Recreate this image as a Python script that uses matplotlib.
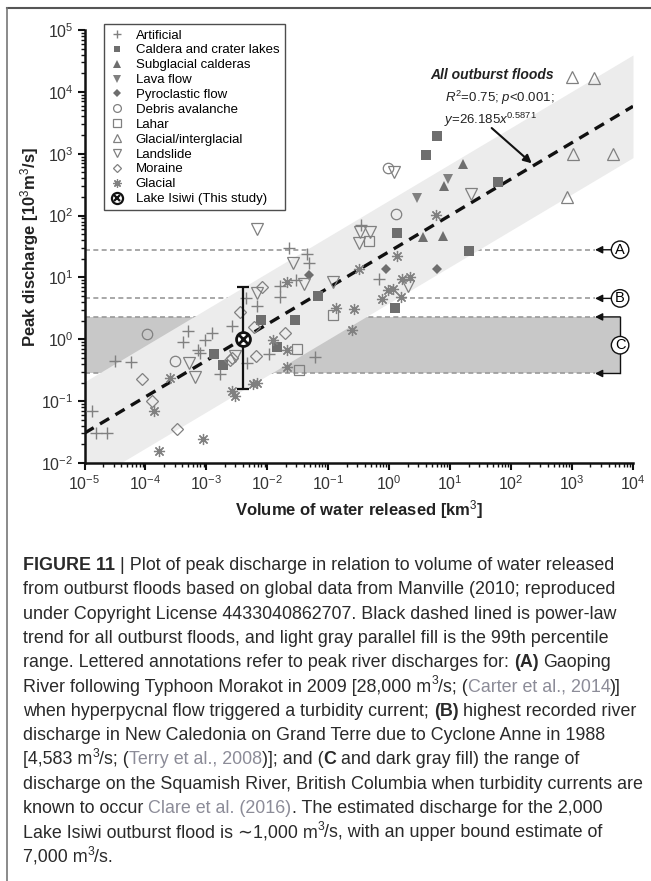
import numpy as np
import matplotlib
matplotlib.use('Agg')
import matplotlib.pyplot as plt
from matplotlib.lines import Line2D
from matplotlib.ticker import LogLocator, NullFormatter

W, H = 651, 881

# --- data (volume km3, discharge 10^3 m3/s) ---
art_x = [0.023, 0.044, 0.049, 0.016, 0.030, 0.016, 0.0045, 0.0067, 0.0026, 0.0005, 0.00122, 0.061,
         0.0108, 0.0046, 0.00095, 0.00041, 0.00074, 0.00079, 3.2e-5, 5.9e-5, 0.00168, 1.31e-5,
         1.55e-5, 2.37e-5, 0.34, 0.69]
art_y = [29.6, 23.9, 16.9, 7.3, 9.1, 4.9, 4.6, 3.4, 1.64, 1.38, 1.28, 0.52,
         0.58, 0.41, 0.97, 0.91, 0.67, 0.59, 0.45, 0.43, 0.275, 0.069,
         0.031, 0.030, 70, 9.3]
cal_x = [0.068, 0.0078, 0.0284, 0.0146, 0.00135, 0.00185, 6.0, 4.0, 62, 1.36, 20.7, 1.24]
cal_y = [5.0, 2.05, 2.05, 0.76, 0.57, 0.38, 1930, 950, 353, 52.8, 26.7, 3.17]
sub_x = [16.1, 7.9, 3.54, 7.55]
sub_y = [682, 300, 45.5, 46.8]
lava_x = [9.3, 2.9]
lava_y = [385, 190]
pyro_x = [0.048, 0.885, 6.15]
pyro_y = [10.9, 13.5, 13.5]
debris_x = [0.00031, 0.000107, 0.97, 1.29]
debris_y = [0.45, 1.2, 581, 106]
lahar_x = [0.031, 0.033, 0.47, 0.121]
lahar_y = [0.69, 0.32, 39, 2.47]
glint_x = [1016, 2300, 1050, 4750, 820]
glint_y = [17600, 16600, 990, 990, 202]
land_x = [0.0067, 0.0267, 0.040, 0.121, 0.0067, 0.00295, 0.00052, 0.00065, 1.2, 21.7,
          0.33, 0.48, 0.32, 2.06]
land_y = [60, 16.9, 7.8, 8.5, 5.5, 0.54, 0.42, 0.25, 513, 223,
          55, 55, 36, 7.3]
mor_x = [0.0081, 0.00356, 0.0061, 0.0195, 0.0065, 0.00244, 0.0026, 8.7e-5, 0.000127, 0.00033]
mor_y = [7.1, 2.8, 1.6, 1.25, 0.54, 0.46, 0.50, 0.225, 0.10, 0.036]
glac_x = [0.0208, 0.32, 0.0122, 0.0213, 0.0208, 0.00025, 0.000138, 0.00089, 0.000169, 0.0026,
          0.00295, 0.00575, 0.0068, 5.86, 1.36, 1.6, 2.19, 0.97, 1.17, 0.75, 1.56, 0.134, 0.264, 0.243]
glac_y = [8.5, 13.5, 0.97, 0.67, 0.35, 0.234, 0.07, 0.0244, 0.0158, 0.148,
          0.121, 0.189, 0.20, 102, 22.2, 9.3, 10.0, 6.3, 6.4, 4.4, 4.9, 3.17, 3.05, 1.41]

isiwi_x, isiwi_y, isiwi_lo, isiwi_hi = 0.004, 1.0, 0.16, 7.0

fit_a, fit_b = 26.185, 0.5871      # y = 26.185 x^0.5871
band_dec = 0.83                    # half-width of 99th percentile band (decades)
river_a, river_b = 28.0, 4.583     # (A), (B)
river_c = (0.28, 2.3)              # (C) range

plt.rcParams['font.family'] = ['Liberation Sans', 'DejaVu Sans']
plt.rcParams['mathtext.fontset'] = 'custom'
plt.rcParams['mathtext.rm'] = 'Liberation Sans'
plt.rcParams['mathtext.it'] = 'Liberation Sans:italic'
plt.rcParams['mathtext.bf'] = 'Liberation Sans:bold'

fig = plt.figure(figsize=(W / 100, H / 100), dpi=100)
L, R, T, B = 84.5, 633, 30, 463
ax = fig.add_axes([L / W, 1 - B / H, (R - L) / W, (B - T) / H])
ax.set_xscale('log')
ax.set_yscale('log')
ax.set_xlim(1e-5, 1e4)
ax.set_ylim(1e-2, 1e5)

# dark gray C range + reference lines (beneath the band)
x_end = 6140
x_tip = 2380
x_tail = 4530
ax.fill_between([1e-5, x_end], river_c[0], river_c[1], color='#c8c8c8', lw=0, zorder=1)
for yv in [river_a, river_b, river_c[0], river_c[1]]:
    ax.plot([1e-5, x_tip], [yv, yv], color='#9a9a9a', lw=1.2, dashes=(3, 2), zorder=1.5)

xs = np.logspace(-5, 4, 100)
yfit = fit_a * xs ** fit_b
ax.fill_between(xs, yfit / 10 ** band_dec, yfit * 10 ** band_dec, color='#ececec', lw=0, zorder=2)
ax.plot(xs, yfit, color='#111111', lw=2.4, dashes=(3.2, 2.2), zorder=4)

gray = '#808080'
dgray = '#6e6e6e'
styles = [
    ('Artificial', art_x, art_y, dict(marker='+', ms=8, mew=1.0, color=gray, mfc=gray)),
    ('Caldera and crater lakes', cal_x, cal_y, dict(marker='s', ms=6.5, mew=0, color=dgray, mfc=dgray)),
    ('Subglacial calderas', sub_x, sub_y, dict(marker='^', ms=7, mew=0, color=dgray, mfc=dgray)),
    ('Lava flow', lava_x, lava_y, dict(marker='v', ms=7, mew=0, color=gray, mfc=gray)),
    ('Pyroclastic flow', pyro_x, pyro_y, dict(marker='D', ms=5.5, mew=0, color=dgray, mfc=dgray)),
    ('Debris avalanche', debris_x, debris_y, dict(marker='o', ms=7.5, mew=0.9, color=gray, mfc='none')),
    ('Lahar', lahar_x, lahar_y, dict(marker='s', ms=7.5, mew=0.9, color=gray, mfc='none')),
    ('Glacial/interglacial', glint_x, glint_y, dict(marker='^', ms=8, mew=0.9, color=gray, mfc='none')),
    ('Landslide', land_x, land_y, dict(marker='v', ms=8, mew=0.9, color=gray, mfc='none')),
    ('Moraine', mor_x, mor_y, dict(marker='D', ms=6, mew=0.9, color=gray, mfc='none')),
    ('Glacial', glac_x, glac_y, dict(marker=(8, 2, 0), ms=8, mew=0.9, color=gray, mfc=gray)),
]
handles = []
for name, xv, yv, st in styles:
    ax.plot(xv, yv, ls='none', zorder=5, **st)
    hst = dict(st)
    hst['ms'] = st['ms'] * 0.75
    handles.append(Line2D([], [], ls='none', label=name, **hst))

# Lake Isiwi
ax.errorbar([isiwi_x], [isiwi_y], yerr=[[isiwi_y - isiwi_lo], [isiwi_hi - isiwi_y]],
            fmt='none', ecolor='#111111', elinewidth=1.6, capsize=4.5, capthick=1.6, zorder=6)
ax.plot([isiwi_x], [isiwi_y], marker='o', ms=10, mfc='white', mec='#111111', mew=2, ls='none', zorder=7)
ax.plot([isiwi_x], [isiwi_y], marker='x', ms=6.5, mec='#111111', mew=2, ls='none', zorder=8)
h_c = Line2D([], [], marker='o', ms=8, mfc='white', mec='#111111', mew=1.6, ls='none')
h_x = Line2D([], [], marker='x', ms=5, mec='#111111', mew=1.6, ls='none')
handles.append((h_c, h_x))
labels = [s[0] for s in styles] + ['Lake Isiwi (This study)']

leg = ax.legend(handles, labels, loc='upper left', bbox_to_anchor=(104 / W, 1 - 24 / H),
                bbox_transform=fig.transFigure, borderaxespad=0, fontsize=9.5, frameon=True,
                fancybox=False, edgecolor='#222222', labelspacing=0.2, handlelength=1.15,
                handletextpad=0.85, borderpad=0.4)
leg.get_frame().set_linewidth(1.0)
leg.set_zorder(10)

# lettered annotations
arw = dict(arrowstyle='-|>', color='#111111', lw=1.0, mutation_scale=11, shrinkA=0, shrinkB=0)
for lab, yv in [('A', river_a), ('B', river_b)]:
    ax.annotate('', xy=(x_tip, yv), xytext=(x_tail, yv), arrowprops=arw, zorder=9)
    ax.text(x_end, yv, lab, ha='center', va='center', fontsize=10.5, zorder=10,
            bbox=dict(boxstyle='circle,pad=0.12', fc='white', ec='#111111', lw=1.0))
ax.plot([x_end, x_end], list(river_c), color='#111111', lw=1.0, zorder=9)
for yv in river_c:
    ax.annotate('', xy=(x_tip, yv), xytext=(x_end, yv), arrowprops=arw, zorder=9)
ax.text(x_end, np.sqrt(river_c[0] * river_c[1]), 'C', ha='center', va='center', fontsize=10.5, zorder=10,
        bbox=dict(boxstyle='circle,pad=0.12', fc='white', ec='#111111', lw=1.0))

# fit annotation
ax.text(48, 1.87e4, 'All outburst floods', ha='center', va='center', fontsize=10,
        fontweight='bold', fontstyle='italic', color='#222222', zorder=10)
ax.text(66, 7.9e3, r'$R^2$=0.75; $p$<0.001;', ha='center', va='center', fontsize=9.5,
        color='#222222', zorder=10)
ax.text(45, 3.5e3, r'$y$=26.185$x^{0.5871}$', ha='center', va='center', fontsize=9.5,
        color='#222222', zorder=10)
ax.annotate('', xy=(218, 700), xytext=(48, 2.6e3),
            arrowprops=dict(arrowstyle='-|>', color='#111111', lw=1.5, mutation_scale=12,
                            shrinkA=0, shrinkB=0), zorder=10)

# axes styling
for s in ['top', 'right']:
    ax.spines[s].set_visible(False)
for s in ['left', 'bottom']:
    ax.spines[s].set_linewidth(1.8)
    ax.spines[s].set_color('#111111')
for axis in [ax.xaxis, ax.yaxis]:
    axis.set_major_locator(LogLocator(base=10, numticks=20))
    axis.set_minor_locator(LogLocator(base=10, subs=np.arange(2, 10), numticks=20))
    axis.set_minor_formatter(NullFormatter())
ax.tick_params(which='major', direction='out', length=5, width=1.5, labelsize=11.5,
               colors='#111111', labelcolor='#333333', pad=3)
ax.tick_params(which='minor', direction='out', length=3, width=1.0, colors='#111111')
ax.set_xlabel('Volume of water released [km$^3$]', fontsize=12, fontweight='bold', color='#222222')
ax.set_ylabel('Peak discharge [10$^3$m$^3$/s]', fontsize=12, fontweight='bold', color='#222222')
ax.xaxis.set_label_coords(0.5, (B - 498) / (B - T))
ax.yaxis.set_label_coords((41 - L) / (R - L), 0.5)

# frame lines
fig.add_artist(Line2D([7 / W, 1], [1 - 8 / H, 1 - 8 / H], color='#555555', lw=1.5))
fig.add_artist(Line2D([7 / W, 7 / W], [0, 1 - 8 / H], color='#777777', lw=1.2))

# caption
N, Bd, G, S = 'n', 'b', 'g', 's'
cap_lines = [
    [('FIGURE 11', Bd), (' | Plot of peak discharge in relation to volume of water released', N)],
    [('from outburst floods based on global data from Manville (2010; reproduced', N)],
    [('under Copyright License 4433040862707. Black dashed lined is power-law', N)],
    [('trend for all outburst floods, and light gray parallel fill is the 99th percentile', N)],
    [('range. Lettered annotations refer to peak river discharges for: ', N), ('(A)', Bd), (' Gaoping', N)],
    [('River following Typhoon Morakot in 2009 [28,000 m', N), ('3', S), ('/s; (', N),
     ('Carter et al., 2014', G), (')]', N)],
    [('when hyperpycnal flow triggered a turbidity current; ', N), ('(B)', Bd),
     (' highest recorded river', N)],
    [('discharge in New Caledonia on Grand Terre due to Cyclone Anne in 1988', N)],
    [('[4,583 m', N), ('3', S), ('/s; (', N), ('Terry et al., 2008', G), (')]; and (', N),
     ('C', Bd), (' and dark gray fill) the range of', N)],
    [('discharge on the Squamish River, British Columbia when turbidity currents are', N)],
    [('known to occur ', N), ('Clare et al. (2016)', G), ('. The estimated discharge for the 2,000', N)],
    [('Lake Isiwi outburst flood is \u223c1,000 m', N), ('3', S), ('/s, with an upper bound estimate of', N)],
    [('7,000 m', N), ('3', S), ('/s.', N)],
]

renderer = fig.canvas.get_renderer()


def text_w(s, fs, weight='normal'):
    t = fig.text(0, 0, s, fontsize=fs, fontweight=weight)
    w = t.get_window_extent(renderer).width
    t.remove()
    return w


# size the caption font so the widest line fits the column
fs = 11.5
widest = max(text_w(''.join(r[0] for r in runs), fs) for runs in cap_lines)
fs = fs * 620 / widest
space = text_w('a a', fs) - text_w('aa', fs)

x0, y0, dy = 23, 570, 24.3
for i, runs in enumerate(cap_lines):
    x = x0
    yb = y0 + i * dy
    for txt, st in runs:
        lead = len(txt) - len(txt.lstrip(' '))
        trail = len(txt) - len(txt.rstrip(' '))
        core = txt.strip(' ')
        x += lead * space
        kw = dict(fontsize=fs, color='#2a2a2a', fontweight='normal')
        yy = yb
        if st == Bd:
            kw['fontweight'] = 'bold'
        elif st == G:
            kw['color'] = '#8c8c98'
        elif st == S:
            kw['fontsize'] = fs * 0.68
            yy = yb - fs * 0.55
        t = fig.text(x / W, 1 - yy / H, core, ha='left', va='baseline', **kw)
        x += t.get_window_extent(renderer).width + trail * space

fig.savefig('out.png', dpi=100)
